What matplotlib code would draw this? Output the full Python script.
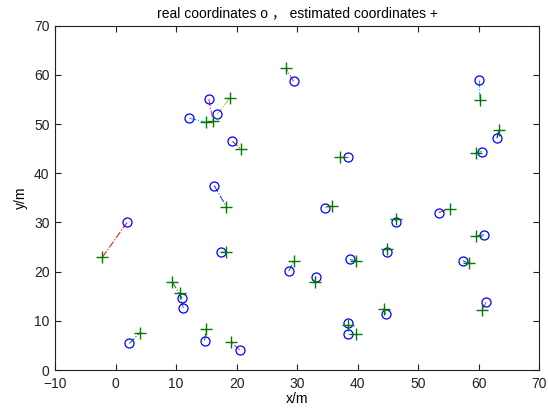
import matplotlib
matplotlib.use("Agg")
import matplotlib.pyplot as plt

# real coordinates (circles)
real_x = [1.9, 29.4, 15.4, 16.8, 12.2, 19.3, 16.3, 17.4, 28.6, 11.0,
          11.2, 2.3, 14.7, 20.5, 34.6, 46.4, 53.4, 60.9, 44.9, 38.7,
          57.4, 33.1, 61.2, 44.6, 38.4, 38.4, 60.1, 63.0, 60.5, 38.4]
real_y = [30.0, 58.7, 55.1, 52.0, 51.2, 46.5, 37.5, 23.9, 20.1, 14.6,
          12.6, 5.4, 6.0, 4.1, 33.0, 30.1, 32.0, 27.5, 24.0, 22.5,
          22.2, 19.0, 13.8, 11.3, 9.6, 7.3, 58.9, 47.1, 44.4, 43.3]

# estimated coordinates (plus)
est_x = [-2.2, 28.1, 16.1, 18.9, 14.9, 20.7, 18.3, 18.3, 29.5, 9.4,
         10.6, 4.0, 15.0, 19.0, 35.8, 46.3, 55.2, 59.6, 44.9, 39.8,
         58.4, 32.9, 60.5, 44.3, 38.4, 39.7, 60.2, 63.3, 59.5, 37.0]
est_y = [22.9, 61.4, 50.7, 55.3, 50.4, 44.9, 33.2, 24.0, 22.2, 17.8,
         15.7, 7.6, 8.3, 5.7, 33.4, 30.7, 32.8, 27.3, 24.7, 22.2,
         21.7, 17.9, 12.1, 12.5, 9.1, 7.3, 54.9, 48.7, 44.2, 43.3]

link_colors = ['#e02020', '#b040c0', '#c040c0', '#c8c040', '#20b0c0', '#c03020',
               '#4040c0', '#208020', '#208020', '#208020', '#20a0a0', '#208020',
               '#208020', '#c040c0', '#c8c040', '#208020', '#d02020', '#20a0a0',
               '#c8c040', '#20a0a0', '#208020', '#208020', '#c040c0', '#208020',
               '#4040c0', '#20a0a0', '#20b0d0', '#202080', '#20a0a0', '#c040c0']

plt.rcParams['font.family'] = ['Liberation Sans', 'Noto Sans CJK SC', 'DejaVu Sans']

fig = plt.figure(figsize=(5.48, 4.08), dpi=100)
ax = fig.add_axes([0.1004, 0.0931, 0.8837, 0.8439])

for rx, ry, ex, ey, c in zip(real_x, real_y, est_x, est_y, link_colors):
    ax.plot([rx, ex], [ry, ey], '-.', color=c, linewidth=0.8)

ax.plot(real_x, real_y, 'o', markerfacecolor='none', markeredgecolor='#0000ff',
        markersize=6.5, markeredgewidth=0.9, linestyle='none')
ax.plot(est_x, est_y, '+', color='#007a00', markersize=8.5, markeredgewidth=1.0,
        linestyle='none')

ax.set_xlim(-10, 70)
ax.set_ylim(0, 70)
ax.set_xticks(range(-10, 71, 10))
ax.set_yticks(range(0, 71, 10))
ax.tick_params(direction='in', top=True, right=True, length=4, labelsize=10,
               colors='#222222')
ax.tick_params(axis='x', pad=5)
ax.tick_params(axis='y', pad=4)
for s in ax.spines.values():
    s.set_linewidth(0.8)
    s.set_color('#222222')

ax.set_xlabel('x/m', fontsize=10, labelpad=1)
ax.set_ylabel('y/m', fontsize=10, labelpad=4)
ax.set_title('real coordinates o ， estimated coordinates +', fontsize=10, pad=6)

fig.savefig('out.png', dpi=100)
